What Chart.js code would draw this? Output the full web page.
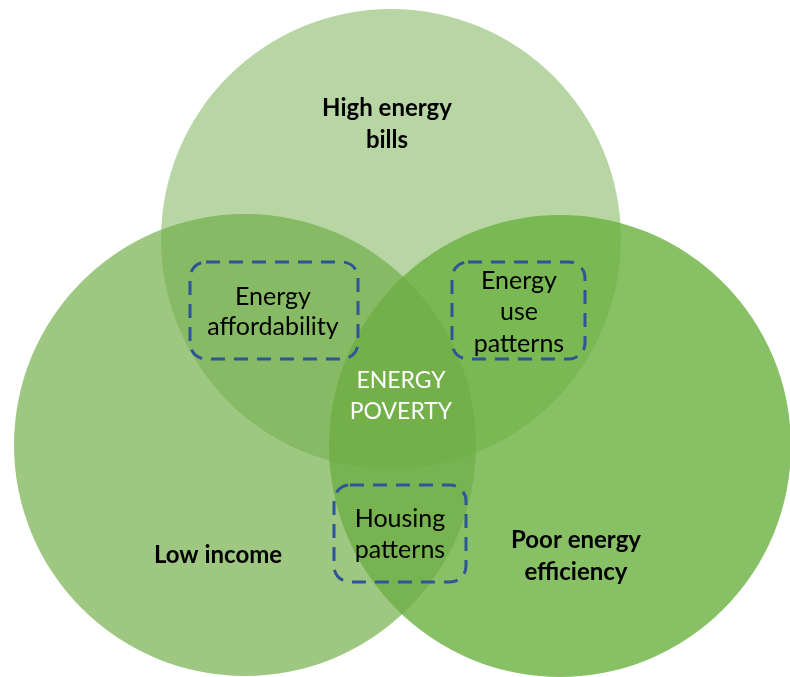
<!DOCTYPE html>
<html>
<head>
<meta charset="utf-8">
<script src="https://cdn.jsdelivr.net/npm/chart.js@4"></script>
<style>
html,body{margin:0;padding:0;background:#fff;}
#wrap{width:790px;height:677px;position:relative;}
</style>
</head>
<body>
<div id="wrap"><canvas id="c" width="790" height="677"></canvas></div>
<script>
// Circle sets (diagram units: x 0..790, y 0..677 top-down)
const setNames = ["Low income", "Poor energy efficiency", "High energy bills"];
const setCenterX = [245, 560, 391];
const setCenterY = [445, 446, 239];
const setRadius = [231, 231, 230];
const setAlpha = [0.68, 0.8, 0.5];

// Set labels
const labelLines = [["High energy", "bills"], ["Low income"], ["Poor energy", "efficiency"]];
const labelX = [387, 218, 576];
const labelY = [[108, 140], [555], [540, 572]];

// Centre label
const centreLines = ["ENERGY", "POVERTY"];
const centreX = 401;
const centreY = [381, 412];

// Dashed intersection boxes
const boxLines = [["Energy", "affordability"], ["Energy", "use", "patterns"], ["Housing", "patterns"]];
const boxX0 = [190, 452, 334];
const boxX1 = [358, 585, 466];
const boxY0 = [262, 262, 485];
const boxY1 = [359, 359, 582];
const boxTextX = [273, 519, 400];
const boxTextY = [[297, 327], [281, 312, 344], [519, 550]];

const GREEN = [112, 173, 71];
const GREEN_R = [106, 177, 62];
const FONT = "Lato, 'Open Sans', 'Liberation Sans', sans-serif";

function radiusPx(chart, r) {
  const s = chart.scales.x;
  if (!s) return 0;
  const v = s.getPixelForValue(r) - s.getPixelForValue(0);
  return isFinite(v) ? v : 0;
}

const datasets = setNames.map((n, i) => {
  const c = i === 1 ? GREEN_R : GREEN;
  return {
    label: n,
    data: [{x: setCenterX[i], y: setCenterY[i]}],
    backgroundColor: `rgba(${c[0]},${c[1]},${c[2]},${setAlpha[i]})`,
    borderWidth: 0,
    pointBorderWidth: 0,
    pointRadius: (ctx) => radiusPx(ctx.chart, setRadius[i]),
    pointHoverRadius: (ctx) => radiusPx(ctx.chart, setRadius[i]),
    showLine: false
  };
});

const overlay = {
  id: 'overlay',
  afterDatasetsDraw(chart) {
    const ctx = chart.ctx, sx = chart.scales.x, sy = chart.scales.y;
    const px = v => sx.getPixelForValue(v), py = v => sy.getPixelForValue(v);
    ctx.save();
    ctx.textAlign = 'center';
    ctx.textBaseline = 'middle';
    ctx.fillStyle = '#000';
    ctx.font = `bold 24px ${FONT}`;
    labelLines.forEach((lines, i) => lines.forEach((t, j) => ctx.fillText(t, px(labelX[i]), py(labelY[i][j]))));
    ctx.fillStyle = '#fff';
    ctx.font = `23px ${FONT}`;
    centreLines.forEach((t, j) => ctx.fillText(t, px(centreX), py(centreY[j])));
    ctx.strokeStyle = '#2F5597';
    ctx.lineWidth = 3;
    ctx.setLineDash([14, 9]);
    boxLines.forEach((lines, i) => {
      const x0 = px(boxX0[i]), x1 = px(boxX1[i]), y0 = py(boxY0[i]), y1 = py(boxY1[i]);
      ctx.beginPath();
      ctx.roundRect(x0, y0, x1 - x0, y1 - y0, 16);
      ctx.stroke();
    });
    ctx.setLineDash([]);
    ctx.fillStyle = '#000';
    ctx.font = `25px ${FONT}`;
    boxLines.forEach((lines, i) => lines.forEach((t, j) => ctx.fillText(t, px(boxTextX[i]), py(boxTextY[i][j]))));
    ctx.restore();
  }
};

new Chart(document.getElementById('c'), {
  type: 'scatter',
  data: { datasets },
  options: {
    responsive: false,
    animation: false,
    events: [],
    clip: false,
    layout: { padding: 0, autoPadding: false },
    plugins: { legend: { display: false }, tooltip: { enabled: false } },
    scales: {
      x: { type: 'linear', min: 0, max: 790, display: false },
      y: { type: 'linear', min: 0, max: 677, reverse: true, display: false }
    }
  },
  plugins: [overlay]
});
</script>
</body>
</html>
